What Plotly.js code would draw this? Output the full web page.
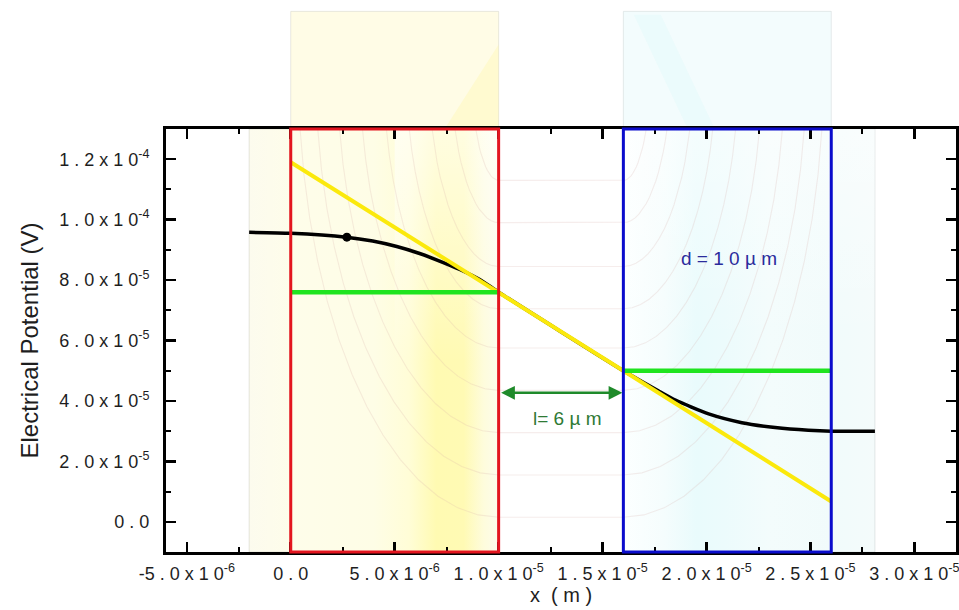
<!DOCTYPE html>
<html>
<head>
<meta charset="utf-8">
<script src="https://cdn.plot.ly/plotly-3.0.1.min.js"></script>
<style>
  html, body { margin: 0; padding: 0; background: #ffffff; }
  #chart { width: 959px; height: 610px; }
</style>
</head>
<body>
<div id="chart"></div>
<script>
// Electrical potential along x across two electrodes separated by a gap.
const potentialX = [-2.0e-6, 0, 2.68e-6, 3.94e-6, 5.1e-6, 6.2e-6, 7.16e-6, 8.13e-6, 9.09e-6, 1.0e-5,
                    1.6e-5, 1.77e-5, 1.85e-5, 2.01e-5, 2.17e-5, 2.33e-5, 2.49e-5, 2.6e-5, 2.81e-5];
const potentialY = [9.58e-5, 9.55e-5, 9.42e-5, 9.29e-5, 9.11e-5, 8.88e-5, 8.63e-5, 8.35e-5, 8.02e-5, 7.6e-5,
                    5.0e-5, 4.33e-5, 4.03e-5, 3.57e-5, 3.28e-5, 3.12e-5, 3.03e-5, 3.0e-5, 3.0e-5];
const probeX = [2.7e-6];
const probeY = [9.42e-5];

// Linear (uniform field) reference line
const linearX = [0, 1.0e-5, 1.6e-5, 2.6e-5];
const linearY = [1.19e-4, 7.6e-5, 5.0e-5, 6.7e-6];

// Mean potential over each electrode
const leftLevelX = [0, 1.0e-5];
const leftLevelY = [7.6e-5, 7.6e-5];
const rightLevelX = [1.6e-5, 2.6e-5];
const rightLevelY = [5.0e-5, 5.0e-5];

// Electrode extents (d = 10 um each, gap l = 6 um)
const leftElectrodeX = [0, 1.0e-5];
const rightElectrodeX = [1.6e-5, 2.6e-5];
const gapArrowY = 4.27e-5;

// Axis ticks
const xTickVals = [-5e-6, 0, 5e-6, 1e-5, 1.5e-5, 2e-5, 2.5e-5, 3e-5];
const xTickText = ['-5 . 0 x 1 0<sup>-6</sup>', '0 . 0', '5 . 0 x 1 0<sup>-6</sup>', '1 . 0 x 1 0<sup>-5</sup>',
                   '1 . 5 x 1 0<sup>-5</sup>', '2 . 0 x 1 0<sup>-5</sup>', '2 . 5 x 1 0<sup>-5</sup>', '3 . 0 x 1 0<sup>-5</sup>'];
const xMinorVals = [-2.5e-6, 2.5e-6, 7.5e-6, 1.25e-5, 1.75e-5, 2.25e-5, 2.75e-5];
const yTickVals = [0, 2e-5, 4e-5, 6e-5, 8e-5, 1.0e-4, 1.2e-4];
const yTickText = ['0 . 0', '2 . 0 x 1 0<sup>-5</sup>', '4 . 0 x 1 0<sup>-5</sup>', '6 . 0 x 1 0<sup>-5</sup>',
                   '8 . 0 x 1 0<sup>-5</sup>', '1 . 0 x 1 0<sup>-4</sup>', '1 . 2 x 1 0<sup>-4</sup>'];
const yMinorVals = [1e-5, 3e-5, 5e-5, 7e-5, 9e-5, 1.1e-4];

const xRange = [-6.0e-6, 3.2e-5];
const yRange = [-1.0e-5, 1.3e-4];

// Simulated field map behind the plot: equipotential levels across the gap
// and where each line leaves the top of the frame above the left electrode.
const fieldLevels = [0.15e-5, 1.55e-5, 2.95e-5, 4.35e-5, 5.75e-5, 7.05e-5, 8.45e-5, 9.9e-5, 1.13e-4];
const fieldTopX = [0.45e-6, 1.3e-6, 2.35e-6, 3.45e-6, 4.6e-6, 5.7e-6, 6.8e-6, 7.9e-6, 8.9e-6];
const leftZone = [-2.0e-6, 1.0e-5];
const rightZone = [1.6e-5, 2.81e-5];

const FONT = 'Liberation Sans, Arial, Helvetica, sans-serif';
const TEXT = '#1e1e1e';

function zone(x0, x1, y0, y1, type, scale, edge) {
  return {
    type: 'scatter', mode: 'lines',
    x: [x0, x1, x1, x0, x0], y: [y0, y0, y1, y1, y0],
    fill: 'toself',
    fillgradient: { type: type, colorscale: scale },
    line: { width: edge ? 1 : 0, color: edge || 'rgba(0,0,0,0)' },
    hoverinfo: 'skip', showlegend: false
  };
}

// Field lines: arc down over the left electrode, straight across the gap,
// and back up over the right electrode.
function fieldLines() {
  const xs = [], ys = [];
  const xl = leftElectrodeX[1], xr = rightElectrodeX[0];
  const yc = 1.5e-4, yTop = yRange[1];
  fieldLevels.forEach((lev, i) => {
    const b = yc - lev;
    const thTop = Math.acos((yc - yTop) / b);
    const a = (xl - fieldTopX[i]) / Math.sin(thTop);
    const n = 14;
    for (let k = n; k >= 0; k--) {
      const th = thTop * k / n;
      xs.push(xl - a * Math.sin(th)); ys.push(yc - b * Math.cos(th));
    }
    for (let k = 0; k <= n; k++) {
      const th = thTop * k / n;
      xs.push(xr + a * Math.sin(th)); ys.push(yc - b * Math.cos(th));
    }
    xs.push(null); ys.push(null);
  });
  return {
    type: 'scatter', mode: 'lines', x: xs, y: ys,
    line: { color: 'rgba(215,175,170,0.22)', width: 1.1 },
    hoverinfo: 'skip', showlegend: false
  };
}

const traces = [
  zone(leftZone[0], leftZone[1], yRange[0], yRange[1], 'horizontal', [
    [0, 'rgb(252,251,238)'], [0.166, 'rgb(254,253,234)'], [0.5, 'rgb(254,253,230)'],
    [0.64, 'rgb(255,253,215)'], [0.75, 'rgb(255,250,178)'], [0.86, 'rgb(255,250,180)'],
    [0.94, 'rgb(254,252,220)'], [1, 'rgb(252,252,236)']
  ], 'rgba(195,195,185,0.45)'),
  zone(5.0e-6, leftZone[1], yRange[0], yRange[1], 'vertical', [
    [0, 'rgba(255,255,255,0)'], [0.45, 'rgba(255,255,255,0)'], [1, 'rgba(255,255,255,0.6)']
  ]),
  zone(rightZone[0], rightZone[1], yRange[0], yRange[1], 'horizontal', [
    [0, 'rgb(252,255,255)'], [0.16, 'rgb(245,253,253)'], [0.29, 'rgb(233,251,252)'],
    [0.4, 'rgb(236,251,252)'], [0.58, 'rgb(243,252,252)'], [0.83, 'rgb(241,251,251)'],
    [1, 'rgb(244,251,251)']
  ], 'rgba(195,205,205,0.45)'),
  zone(rightZone[0], rightZone[1], yRange[0], yRange[1], 'vertical', [
    [0, 'rgba(255,255,255,0)'], [0.5, 'rgba(255,255,255,0)'], [1, 'rgba(255,255,255,0.5)']
  ]),
  fieldLines(),
  {
    type: 'scatter', mode: 'lines', x: potentialX, y: potentialY,
    line: { color: '#000000', width: 3.5, shape: 'spline', smoothing: 0.6 },
    hoverinfo: 'skip', showlegend: false
  },
  {
    type: 'scatter', mode: 'lines', x: linearX, y: linearY,
    line: { color: '#fbe90c', width: 4 }, hoverinfo: 'skip', showlegend: false
  },
  {
    type: 'scatter', mode: 'lines', x: leftLevelX, y: leftLevelY,
    line: { color: '#1fe41f', width: 4.5 }, hoverinfo: 'skip', showlegend: false
  },
  {
    type: 'scatter', mode: 'lines', x: rightLevelX, y: rightLevelY,
    line: { color: '#1fe41f', width: 4.5 }, hoverinfo: 'skip', showlegend: false
  },
  {
    type: 'scatter', mode: 'markers', x: probeX, y: probeY,
    marker: { color: '#000000', size: 9 }, hoverinfo: 'skip', showlegend: false
  }
];

const axisCommon = {
  showgrid: false, zeroline: false,
  showline: true, linecolor: '#000000', linewidth: 3, mirror: 'allticks',
  ticks: 'inside', ticklen: 10, tickwidth: 2.5, tickcolor: '#000000',
  tickmode: 'array',
  tickfont: { family: FONT, size: 18, color: TEXT },
  ticklabeloverflow: 'allow',
  automargin: false
};

const layout = {
  width: 959, height: 610,
  margin: { l: 166, r: 3, t: 129, b: 58 },
  paper_bgcolor: '#ffffff', plot_bgcolor: '#ffffff',
  showlegend: false,
  xaxis: Object.assign({}, axisCommon, {
    range: xRange, tickvals: xTickVals, ticktext: xTickText,
    minor: { tickmode: 'array', tickvals: xMinorVals, ticks: 'inside', ticklen: 5, tickwidth: 2, tickcolor: '#000000' },
    ticklabelstandoff: 3,
    title: { text: 'x  ( m )', font: { family: FONT, size: 20, color: TEXT }, standoff: 6 }
  }),
  yaxis: Object.assign({}, axisCommon, {
    range: yRange, tickvals: yTickVals, ticktext: yTickText,
    minor: { tickmode: 'array', tickvals: yMinorVals, ticks: 'inside', ticklen: 5, tickwidth: 2, tickcolor: '#000000' },
    ticklabelstandoff: 10,
    title: { text: 'Electrical Potential (V)', font: { family: FONT, size: 24, color: TEXT }, standoff: 14 }
  }),
  shapes: [
    // field map panels above the frame
    { type: 'rect', xref: 'x', yref: 'paper', layer: 'below',
      x0: leftElectrodeX[0], x1: leftElectrodeX[1], y0: 1.0, y1: 1.278,
      fillcolor: 'rgb(255,252,230)', line: { color: 'rgba(200,200,190,0.4)', width: 1 } },
    { type: 'path', xref: 'x', yref: 'paper', layer: 'below',
      path: 'M 7.4e-6,1.0 L 1.0e-5,1.0 L 1.0e-5,1.2 Z',
      fillcolor: 'rgba(255,246,150,0.28)', line: { width: 0 } },
    { type: 'rect', xref: 'x', yref: 'paper', layer: 'below',
      x0: rightElectrodeX[0], x1: rightElectrodeX[1], y0: 1.0, y1: 1.278,
      fillcolor: 'rgb(243,252,253)', line: { color: 'rgba(195,205,205,0.4)', width: 1 } },
    { type: 'path', xref: 'x', yref: 'paper', layer: 'below',
      path: 'M 16.5e-6,1.27 L 17.8e-6,1.27 L 20.4e-6,1.0 L 19.1e-6,1.0 Z',
      fillcolor: 'rgba(220,248,250,0.35)', line: { width: 0 } },
    // electrodes
    { type: 'rect', xref: 'x', yref: 'paper', layer: 'above',
      x0: leftElectrodeX[0], x1: leftElectrodeX[1], y0: 0, y1: 1,
      line: { color: '#e3151f', width: 3 }, fillcolor: 'rgba(0,0,0,0)' },
    { type: 'rect', xref: 'x', yref: 'paper', layer: 'above',
      x0: rightElectrodeX[0], x1: rightElectrodeX[1], y0: 0, y1: 1,
      line: { color: '#0a0ccc', width: 3 }, fillcolor: 'rgba(0,0,0,0)' }
  ],
  annotations: [
    { x: rightElectrodeX[0], y: gapArrowY, ax: leftElectrodeX[1], ay: gapArrowY,
      xref: 'x', yref: 'y', axref: 'x', ayref: 'y', text: '',
      showarrow: true, arrowside: 'end+start', arrowhead: 2, startarrowhead: 2,
      arrowsize: 1.1, startarrowsize: 1.1, arrowwidth: 2.5, arrowcolor: '#1f8a2a',
      standoff: 1, startstandoff: 1 },
    { x: 1.33e-5, y: 3.43e-5, xref: 'x', yref: 'y', showarrow: false,
      text: 'l= 6 µ m', font: { family: FONT, size: 19, color: '#2f7a35' } },
    { x: 2.11e-5, y: 8.73e-5, xref: 'x', yref: 'y', showarrow: false,
      text: 'd = 1 0 µ m', font: { family: FONT, size: 19, color: '#2b2b9c' } }
  ]
};

Plotly.newPlot('chart', traces, layout, { displayModeBar: false, staticPlot: true });
</script>
</body>
</html>
